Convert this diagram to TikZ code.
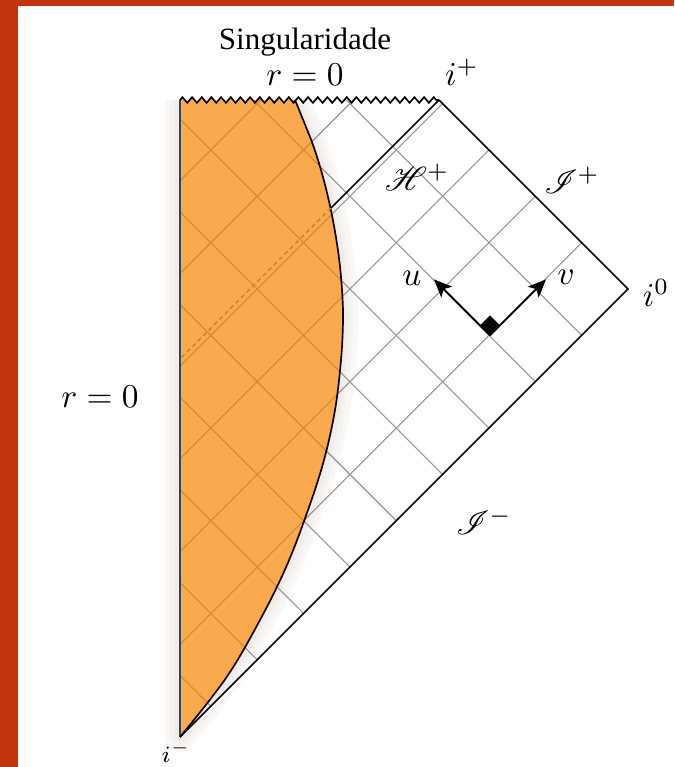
\documentclass[tikz,border=0pt]{standalone}
\usepackage{fontspec}
\usepackage{mathrsfs}
\newfontfamily\txtfont{Liberation Serif}
\usetikzlibrary{decorations.pathmorphing,arrows.meta}
\definecolor{framecol}{RGB}{194,52,14}
\definecolor{orfill}{RGB}{249,170,78}
\definecolor{orgrid}{RGB}{214,135,48}
\definecolor{dashcol}{RGB}{205,118,38}
\definecolor{gridcol}{RGB}{150,150,150}
\definecolor{shadowcol}{RGB}{150,115,85}
\tikzset{
  gridline/.style={draw=gridcol,line width=0.33pt},
  orgridline/.style={draw=orgrid,line width=0.33pt},
  edge/.style={draw=black,line width=0.5pt},
  zig/.style={decoration={zigzag,segment length=2.9pt,amplitude=0.85pt}},
  arr/.style={draw=black,line width=0.55pt,-{Stealth[length=5.4pt,width=4.6pt,inset=1.3pt]}},
  lab/.style={inner sep=0pt,font=\fontsize{10}{12}\selectfont},
}
\begin{document}
\begin{tikzpicture}[x=0.3pt,y=-0.3pt]
\useasboundingbox (0,0) rectangle (674,767);
\fill[framecol] (0,0) rectangle (674,767);
\fill[white] (18,6) rectangle (674,767);

\coordinate (TL) at (180,100);
\coordinate (ip) at (439,100);
\coordinate (iz) at (628,289);
\coordinate (im) at (180,737);
\coordinate (cT) at (295,100);
\coordinate (hc) at (331,208);
\coordinate (hl) at (180,359);

% grey null grid
\begin{scope}
\clip (TL) -- (ip) -- (iz) -- (im) -- cycle;
\foreach \k in {1,...,9} {\draw[gridline] ({339-92.7*\k},0) -- ({339-92.7*\k+800},800);}
\foreach \m in {1,...,6} {\draw[gridline] ({917-92.7*\m},0) -- ({917-92.7*\m-800},800);}
\end{scope}

% soft shadow around the star
\foreach \w in {30,20,11} {
  \draw[shadowcol,opacity=0.045,line width=\w*0.3pt,line join=round]
    plot[smooth,tension=0.6] coordinates {(295,100) (304,122) (313,145) (321,170) (328,197) (334,226) (339,258) (342,290) (343,320) (341,360) (335,410) (324,460) (308,510) (287,565) (260,620) (226,678) (180,737)} -- (TL);
}

% star interior
\fill[orfill,zig] (im) -- (TL) decorate {-- (cT)}
  -- plot[smooth,tension=0.6] coordinates {(295,100) (304,122) (313,145) (321,170) (328,197) (334,226) (339,258) (342,290) (343,320) (341,360) (335,410) (324,460) (308,510) (287,565) (260,620) (226,678) (180,737)} -- cycle;
\begin{scope}
\clip (im) -- (TL) -- (cT)
  -- plot[smooth,tension=0.6] coordinates {(295,100) (304,122) (313,145) (321,170) (328,197) (334,226) (339,258) (342,290) (343,320) (341,360) (335,410) (324,460) (308,510) (287,565) (260,620) (226,678) (180,737)} -- cycle;
\foreach \k in {1,...,9} {\draw[orgridline] ({339-92.7*\k},0) -- ({339-92.7*\k+800},800);}
\foreach \m in {1,...,6} {\draw[orgridline] ({917-92.7*\m},0) -- ({917-92.7*\m-800},800);}
\end{scope}

% boundaries
\draw[edge] plot[smooth,tension=0.6] coordinates {(295,100) (304,122) (313,145) (321,170) (328,197) (334,226) (339,258) (342,290) (343,320) (341,360) (335,410) (324,460) (308,510) (287,565) (260,620) (226,678) (180,737)};
\draw[draw=black!75,line width=0.4pt] (TL) -- (im);
\draw[edge] (im) -- (iz) -- (ip);
\draw[edge,zig,decorate] (TL) -- (ip);

% horizon
\draw[edge] (ip) -- (hc);
\draw[dashcol,line width=0.4pt,dash pattern=on 1.3pt off 1pt] (hc) -- (hl);

% u, v arrows
\coordinate (O) at (490,335.4);
\coordinate (ut) at (434,279.4);
\coordinate (vt) at (546,279.4);
\fill[black] (O) -- (480,325.4) -- (490,315.4) -- (500,325.4) -- cycle;
\draw[arr] (O) -- (ut);
\draw[arr] (O) -- (vt);

% labels
\node[inner sep=0pt,font=\fontsize{9.3}{11}\selectfont] (sing) at (305,42) {\txtfont Singularidade};
\node[lab] (r0top) at (305,75) {$r=0$};
\node[lab] (iplab) at (462,72) {$i^+$};
\node[lab] (Hp) at (417,177) {$\mathscr{H}^+$};
\node[lab] (Ip) at (572,180) {$\mathscr{I}^+$};
\node[lab] (i0) at (656,293) {$i^0$};
\node[lab] (r0l) at (100,397) {$r=0$};
\node[lab] (Im) at (484,521) {$\mathscr{I}^-$};
\node[inner sep=0pt,font=\scriptsize] (imlab) at (176,752) {$i^-$};
\node[lab] (ul) at (412,278) {$u$};
\node[lab] (vl) at (566,277) {$v$};
\end{tikzpicture}
\end{document}
